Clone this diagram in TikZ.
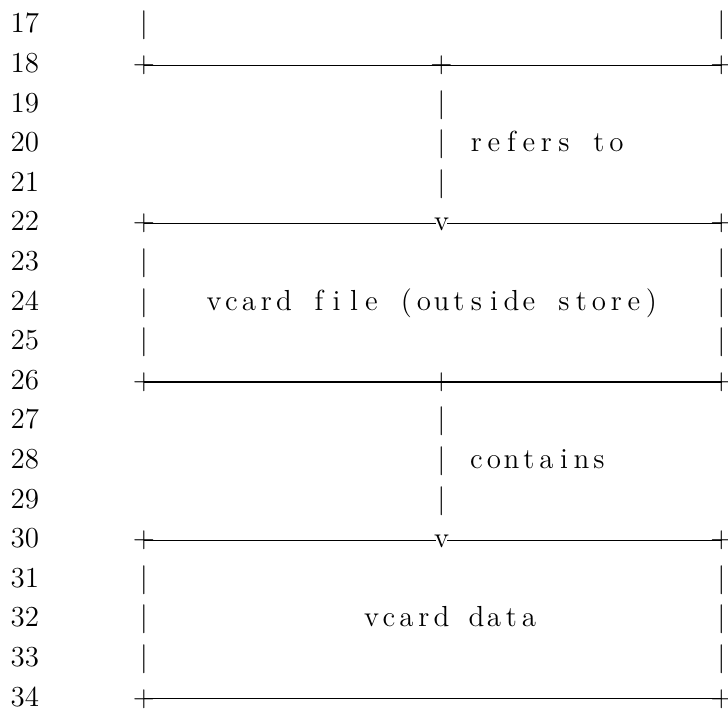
\documentclass[tikz,border=0pt]{standalone}
\newlength\cellw
\setlength\cellw{8.75pt}
\newcommand\fixcols[1]{\fixcolsloop#1\relax}
\def\fixcolsloop#1{\ifx\relax#1\else\makebox[\cellw][c]{#1}\expandafter\fixcolsloop\fi}
\newcommand\rowy[1]{32.8+(#1-17)*39.6}
\begin{document}
\begin{tikzpicture}[x=0.5pt,y=-0.5pt,
  every node/.style={inner sep=0pt,outer sep=0pt,font=\fontsize{14.5pt}{17pt}\selectfont},
  glyph/.style={anchor=base},
  num/.style={anchor=base east},
  lbl/.style={anchor=base west},
  rulel/.style={line width=0.62pt}]
\useasboundingbox (0,0) rectangle (728,709);
% line numbers
\foreach \r in {17,...,34} \node[num] (n\r) at (39,{\rowy{\r}}) {\r};
% row 17
\node[glyph] (b17a) at (144,{\rowy{17}}) {|};
\node[glyph] (b17c) at (721.5,{\rowy{17}}) {|};
% row 18
\node[glyph] (p18a) at (144,{\rowy{18}}) {+};
\node[glyph] (p18b) at (441.5,{\rowy{18}}) {+};
\node[glyph] (p18c) at (721.5,{\rowy{18}}) {+};
% rows 19-21
\node[glyph] (b19) at (441.5,{\rowy{19}}) {|};
\node[glyph] (b20) at (441.5,{\rowy{20}}) {|};
\node[glyph] (b21) at (441.5,{\rowy{21}}) {|};
\node[lbl] (t20) at (467.75,{\rowy{20}}) {\fixcols{refers~to}};
% row 22
\node[glyph] (p22a) at (144,{\rowy{22}}) {+};
\node[glyph] (v22) at (441.5,{\rowy{22}}) {v};
\node[glyph] (p22c) at (721.5,{\rowy{22}}) {+};
% rows 23-25
\node[glyph] (b23a) at (144,{\rowy{23}}) {|};
\node[glyph] (b23c) at (721.5,{\rowy{23}}) {|};
\node[glyph] (b24a) at (144,{\rowy{24}}) {|};
\node[glyph] (b24c) at (721.5,{\rowy{24}}) {|};
\node[glyph] (b25a) at (144,{\rowy{25}}) {|};
\node[glyph] (b25c) at (721.5,{\rowy{25}}) {|};
\node[lbl] (t24) at (205.25,{\rowy{24}}) {\fixcols{vcard~file~(outside~store)}};
% row 26
\node[glyph] (p26a) at (144,{\rowy{26}}) {+};
\node[glyph] (p26b) at (441.5,{\rowy{26}}) {+};
\node[glyph] (p26c) at (721.5,{\rowy{26}}) {+};
% rows 27-29
\node[glyph] (b27) at (441.5,{\rowy{27}}) {|};
\node[glyph] (b28) at (441.5,{\rowy{28}}) {|};
\node[glyph] (b29) at (441.5,{\rowy{29}}) {|};
\node[lbl] (t28) at (467.75,{\rowy{28}}) {\fixcols{contains}};
% row 30
\node[glyph] (p30a) at (144,{\rowy{30}}) {+};
\node[glyph] (v30) at (441.5,{\rowy{30}}) {v};
\node[glyph] (p30c) at (721.5,{\rowy{30}}) {+};
% rows 31-33
\node[glyph] (b31a) at (144,{\rowy{31}}) {|};
\node[glyph] (b31c) at (721.5,{\rowy{31}}) {|};
\node[glyph] (b32a) at (144,{\rowy{32}}) {|};
\node[glyph] (b32c) at (721.5,{\rowy{32}}) {|};
\node[glyph] (b33a) at (144,{\rowy{33}}) {|};
\node[glyph] (b33c) at (721.5,{\rowy{33}}) {|};
\node[lbl] (t32) at (362.75,{\rowy{32}}) {\fixcols{vcard~data}};
% row 34
\node[glyph] (p34a) at (144,{\rowy{34}}) {+};
\node[glyph] (p34c) at (721.5,{\rowy{34}}) {+};
% horizontal rules
\draw[rulel] (p18a.center) -- (p18b.center) -- (p18c.center);
\draw[rulel] (p22a.center) -- ([xshift=1pt]v22.west |- p22a.center);
\draw[rulel] ([xshift=-1pt]v22.east |- p22c.center) -- (p22c.center);
\draw[rulel] (p26a.center) -- (p26b.center) -- (p26c.center);
\draw[rulel] (p30a.center) -- ([xshift=1pt]v30.west |- p30a.center);
\draw[rulel] ([xshift=-1pt]v30.east |- p30c.center) -- (p30c.center);
\draw[rulel] (p34a.center) -- (p34c.center);
\end{tikzpicture}
\end{document}
